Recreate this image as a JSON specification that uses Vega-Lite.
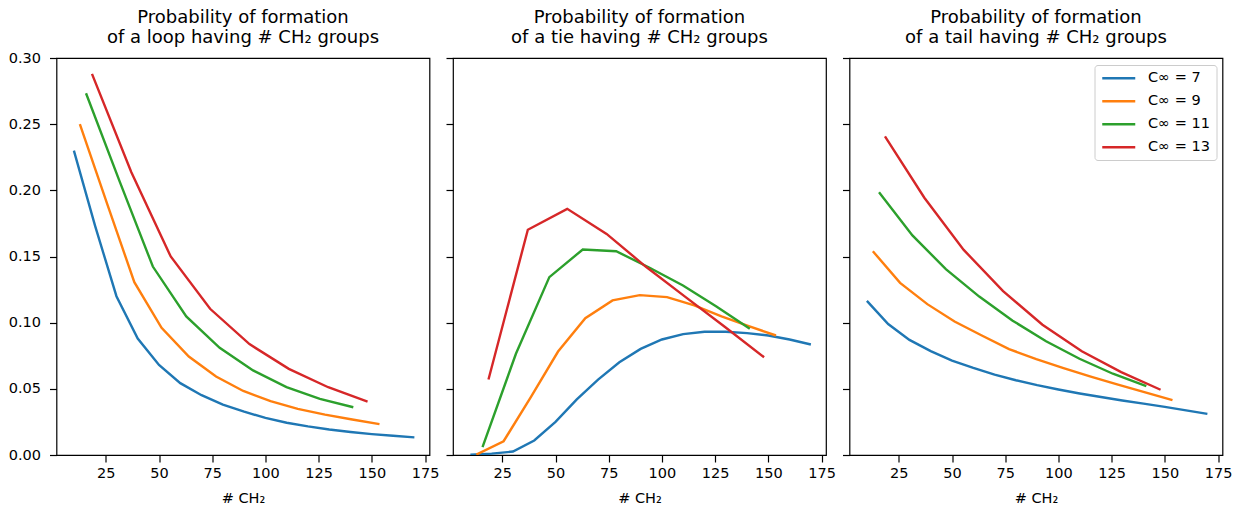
{
  "$schema": "https://vega.github.io/schema/vega-lite/v6.json",
  "padding": {"left": 7.5, "top": 7, "right": 0, "bottom": 0},
  "background": "white",
  "config": {
    "font": "DejaVu Sans",
    "view": {"stroke": "black", "strokeWidth": 1.2},
    "axis": {
      "domain": false, "grid": false, "tickColor": "black", "tickWidth": 1.2, "tickSize": 7,
      "labelColor": "black", "labelFontSize": 14.5, "labelFont": "DejaVu Sans",
      "titleFont": "DejaVu Sans", "titleFontSize": 14.5, "titleFontWeight": "normal", "titleColor": "black"
    },
    "axisX": {"labelPadding": 4, "titlePadding": 11.5},
    "axisY": {"labelPadding": 9},
    "title": {"font": "DejaVu Sans", "fontSize": 18, "fontWeight": "normal", "color": "black", "lineHeight": 20, "offset": 10, "anchor": "middle", "frame": "group"}
  },
  "datasets": {
    "d": [
      {"p": "loop", "c": "C∞ = 7", "x": 10, "y": 0.230},
      {"p": "loop", "c": "C∞ = 7", "x": 20, "y": 0.173},
      {"p": "loop", "c": "C∞ = 7", "x": 30, "y": 0.120},
      {"p": "loop", "c": "C∞ = 7", "x": 40, "y": 0.088},
      {"p": "loop", "c": "C∞ = 7", "x": 50, "y": 0.068},
      {"p": "loop", "c": "C∞ = 7", "x": 60, "y": 0.0543},
      {"p": "loop", "c": "C∞ = 7", "x": 70, "y": 0.0452},
      {"p": "loop", "c": "C∞ = 7", "x": 80, "y": 0.0380},
      {"p": "loop", "c": "C∞ = 7", "x": 90, "y": 0.0328},
      {"p": "loop", "c": "C∞ = 7", "x": 100, "y": 0.0280},
      {"p": "loop", "c": "C∞ = 7", "x": 110, "y": 0.0244},
      {"p": "loop", "c": "C∞ = 7", "x": 120, "y": 0.0216},
      {"p": "loop", "c": "C∞ = 7", "x": 130, "y": 0.0193},
      {"p": "loop", "c": "C∞ = 7", "x": 140, "y": 0.0174},
      {"p": "loop", "c": "C∞ = 7", "x": 150, "y": 0.0158},
      {"p": "loop", "c": "C∞ = 7", "x": 160, "y": 0.0145},
      {"p": "loop", "c": "C∞ = 7", "x": 170, "y": 0.0133},
      {"p": "loop", "c": "C∞ = 9", "x": 12.8, "y": 0.250},
      {"p": "loop", "c": "C∞ = 9", "x": 25.6, "y": 0.190},
      {"p": "loop", "c": "C∞ = 9", "x": 38.4, "y": 0.1306},
      {"p": "loop", "c": "C∞ = 9", "x": 51.2, "y": 0.0961},
      {"p": "loop", "c": "C∞ = 9", "x": 64, "y": 0.0744},
      {"p": "loop", "c": "C∞ = 9", "x": 76.8, "y": 0.0593},
      {"p": "loop", "c": "C∞ = 9", "x": 89.6, "y": 0.0484},
      {"p": "loop", "c": "C∞ = 9", "x": 102.4, "y": 0.0407},
      {"p": "loop", "c": "C∞ = 9", "x": 115.2, "y": 0.0349},
      {"p": "loop", "c": "C∞ = 9", "x": 128, "y": 0.0305},
      {"p": "loop", "c": "C∞ = 9", "x": 140.8, "y": 0.0268},
      {"p": "loop", "c": "C∞ = 9", "x": 153.6, "y": 0.0233},
      {"p": "loop", "c": "C∞ = 11", "x": 15.7, "y": 0.2734},
      {"p": "loop", "c": "C∞ = 11", "x": 31.4, "y": 0.2072},
      {"p": "loop", "c": "C∞ = 11", "x": 47.1, "y": 0.1424},
      {"p": "loop", "c": "C∞ = 11", "x": 62.8, "y": 0.1047},
      {"p": "loop", "c": "C∞ = 11", "x": 78.5, "y": 0.0810},
      {"p": "loop", "c": "C∞ = 11", "x": 94.2, "y": 0.0639},
      {"p": "loop", "c": "C∞ = 11", "x": 109.9, "y": 0.0513},
      {"p": "loop", "c": "C∞ = 11", "x": 125.6, "y": 0.0424},
      {"p": "loop", "c": "C∞ = 11", "x": 141.3, "y": 0.0361},
      {"p": "loop", "c": "C∞ = 13", "x": 18.5, "y": 0.288},
      {"p": "loop", "c": "C∞ = 13", "x": 37, "y": 0.2137},
      {"p": "loop", "c": "C∞ = 13", "x": 55.5, "y": 0.150},
      {"p": "loop", "c": "C∞ = 13", "x": 74, "y": 0.1105},
      {"p": "loop", "c": "C∞ = 13", "x": 92.5, "y": 0.0838},
      {"p": "loop", "c": "C∞ = 13", "x": 111, "y": 0.0651},
      {"p": "loop", "c": "C∞ = 13", "x": 129.5, "y": 0.0512},
      {"p": "loop", "c": "C∞ = 13", "x": 148, "y": 0.0404},

      {"p": "tie", "c": "C∞ = 7", "x": 10, "y": 0.0003},
      {"p": "tie", "c": "C∞ = 7", "x": 20, "y": 0.001},
      {"p": "tie", "c": "C∞ = 7", "x": 30, "y": 0.0026},
      {"p": "tie", "c": "C∞ = 7", "x": 40, "y": 0.011},
      {"p": "tie", "c": "C∞ = 7", "x": 50, "y": 0.025},
      {"p": "tie", "c": "C∞ = 7", "x": 60, "y": 0.042},
      {"p": "tie", "c": "C∞ = 7", "x": 70, "y": 0.057},
      {"p": "tie", "c": "C∞ = 7", "x": 80, "y": 0.0701},
      {"p": "tie", "c": "C∞ = 7", "x": 90, "y": 0.0802},
      {"p": "tie", "c": "C∞ = 7", "x": 100, "y": 0.0873},
      {"p": "tie", "c": "C∞ = 7", "x": 110, "y": 0.0913},
      {"p": "tie", "c": "C∞ = 7", "x": 120, "y": 0.0931},
      {"p": "tie", "c": "C∞ = 7", "x": 130, "y": 0.0931},
      {"p": "tie", "c": "C∞ = 7", "x": 140, "y": 0.0921},
      {"p": "tie", "c": "C∞ = 7", "x": 150, "y": 0.0903},
      {"p": "tie", "c": "C∞ = 7", "x": 160, "y": 0.0873},
      {"p": "tie", "c": "C∞ = 7", "x": 170, "y": 0.0835},
      {"p": "tie", "c": "C∞ = 9", "x": 12.8, "y": 0.0003},
      {"p": "tie", "c": "C∞ = 9", "x": 25.6, "y": 0.0104},
      {"p": "tie", "c": "C∞ = 9", "x": 38.4, "y": 0.0437},
      {"p": "tie", "c": "C∞ = 9", "x": 51.2, "y": 0.0782},
      {"p": "tie", "c": "C∞ = 9", "x": 64, "y": 0.1034},
      {"p": "tie", "c": "C∞ = 9", "x": 76.8, "y": 0.1168},
      {"p": "tie", "c": "C∞ = 9", "x": 89.6, "y": 0.1208},
      {"p": "tie", "c": "C∞ = 9", "x": 102.4, "y": 0.1193},
      {"p": "tie", "c": "C∞ = 9", "x": 115.2, "y": 0.113},
      {"p": "tie", "c": "C∞ = 9", "x": 128, "y": 0.1047},
      {"p": "tie", "c": "C∞ = 9", "x": 140.8, "y": 0.0974},
      {"p": "tie", "c": "C∞ = 9", "x": 153.6, "y": 0.0903},
      {"p": "tie", "c": "C∞ = 11", "x": 15.7, "y": 0.0059},
      {"p": "tie", "c": "C∞ = 11", "x": 31.4, "y": 0.0765},
      {"p": "tie", "c": "C∞ = 11", "x": 47.1, "y": 0.1344},
      {"p": "tie", "c": "C∞ = 11", "x": 62.8, "y": 0.1553},
      {"p": "tie", "c": "C∞ = 11", "x": 78.5, "y": 0.1540},
      {"p": "tie", "c": "C∞ = 11", "x": 94.2, "y": 0.1415},
      {"p": "tie", "c": "C∞ = 11", "x": 109.9, "y": 0.1281},
      {"p": "tie", "c": "C∞ = 11", "x": 125.6, "y": 0.1122},
      {"p": "tie", "c": "C∞ = 11", "x": 141.3, "y": 0.0954},
      {"p": "tie", "c": "C∞ = 13", "x": 18.5, "y": 0.0571},
      {"p": "tie", "c": "C∞ = 13", "x": 37, "y": 0.1702},
      {"p": "tie", "c": "C∞ = 13", "x": 55.5, "y": 0.1860},
      {"p": "tie", "c": "C∞ = 13", "x": 74, "y": 0.1671},
      {"p": "tie", "c": "C∞ = 13", "x": 92.5, "y": 0.1422},
      {"p": "tie", "c": "C∞ = 13", "x": 111, "y": 0.1195},
      {"p": "tie", "c": "C∞ = 13", "x": 129.5, "y": 0.0969},
      {"p": "tie", "c": "C∞ = 13", "x": 148, "y": 0.0739},

      {"p": "tail", "c": "C∞ = 7", "x": 10, "y": 0.1165},
      {"p": "tail", "c": "C∞ = 7", "x": 20, "y": 0.099},
      {"p": "tail", "c": "C∞ = 7", "x": 30, "y": 0.087},
      {"p": "tail", "c": "C∞ = 7", "x": 40, "y": 0.0785},
      {"p": "tail", "c": "C∞ = 7", "x": 50, "y": 0.0714},
      {"p": "tail", "c": "C∞ = 7", "x": 60, "y": 0.0659},
      {"p": "tail", "c": "C∞ = 7", "x": 70, "y": 0.0608},
      {"p": "tail", "c": "C∞ = 7", "x": 80, "y": 0.0565},
      {"p": "tail", "c": "C∞ = 7", "x": 90, "y": 0.0528},
      {"p": "tail", "c": "C∞ = 7", "x": 100, "y": 0.0495},
      {"p": "tail", "c": "C∞ = 7", "x": 110, "y": 0.0465},
      {"p": "tail", "c": "C∞ = 7", "x": 120, "y": 0.0438},
      {"p": "tail", "c": "C∞ = 7", "x": 130, "y": 0.0412},
      {"p": "tail", "c": "C∞ = 7", "x": 140, "y": 0.0388},
      {"p": "tail", "c": "C∞ = 7", "x": 150, "y": 0.0364},
      {"p": "tail", "c": "C∞ = 7", "x": 160, "y": 0.0337},
      {"p": "tail", "c": "C∞ = 7", "x": 170, "y": 0.0311},
      {"p": "tail", "c": "C∞ = 9", "x": 12.8, "y": 0.154},
      {"p": "tail", "c": "C∞ = 9", "x": 25.6, "y": 0.1301},
      {"p": "tail", "c": "C∞ = 9", "x": 38.4, "y": 0.114},
      {"p": "tail", "c": "C∞ = 9", "x": 51.2, "y": 0.1009},
      {"p": "tail", "c": "C∞ = 9", "x": 64, "y": 0.0903},
      {"p": "tail", "c": "C∞ = 9", "x": 76.8, "y": 0.0800},
      {"p": "tail", "c": "C∞ = 9", "x": 89.6, "y": 0.0725},
      {"p": "tail", "c": "C∞ = 9", "x": 102.4, "y": 0.0657},
      {"p": "tail", "c": "C∞ = 9", "x": 115.2, "y": 0.0593},
      {"p": "tail", "c": "C∞ = 9", "x": 128, "y": 0.0532},
      {"p": "tail", "c": "C∞ = 9", "x": 140.8, "y": 0.0473},
      {"p": "tail", "c": "C∞ = 9", "x": 153.6, "y": 0.0415},
      {"p": "tail", "c": "C∞ = 11", "x": 15.7, "y": 0.1986},
      {"p": "tail", "c": "C∞ = 11", "x": 31.4, "y": 0.1659},
      {"p": "tail", "c": "C∞ = 11", "x": 47.1, "y": 0.1405},
      {"p": "tail", "c": "C∞ = 11", "x": 62.8, "y": 0.1197},
      {"p": "tail", "c": "C∞ = 11", "x": 78.5, "y": 0.1015},
      {"p": "tail", "c": "C∞ = 11", "x": 94.2, "y": 0.086},
      {"p": "tail", "c": "C∞ = 11", "x": 109.9, "y": 0.0727},
      {"p": "tail", "c": "C∞ = 11", "x": 125.6, "y": 0.0614},
      {"p": "tail", "c": "C∞ = 11", "x": 141.3, "y": 0.052},
      {"p": "tail", "c": "C∞ = 13", "x": 18.5, "y": 0.2407},
      {"p": "tail", "c": "C∞ = 13", "x": 37, "y": 0.1944},
      {"p": "tail", "c": "C∞ = 13", "x": 55.5, "y": 0.155},
      {"p": "tail", "c": "C∞ = 13", "x": 74, "y": 0.1238},
      {"p": "tail", "c": "C∞ = 13", "x": 92.5, "y": 0.0984},
      {"p": "tail", "c": "C∞ = 13", "x": 111, "y": 0.0784},
      {"p": "tail", "c": "C∞ = 13", "x": 129.5, "y": 0.0626},
      {"p": "tail", "c": "C∞ = 13", "x": 148, "y": 0.0493}
    ]
  },
  "data": {"name": "d"},
  "bounds": "flush",
  "spacing": 23.5,
  "resolve": {"scale": {"color": "independent"}, "legend": {"color": "independent"}},
  "hconcat": [
    {
      "width": 373, "height": 397,
      "title": {"text": ["Probability of formation", "of a loop having # CH₂ groups"], "offset": 3.5},
      "transform": [{"filter": "datum.p === 'loop'"}],
      "mark": {"type": "line", "strokeWidth": 2.4, "clip": true},
      "encoding": {
        "x": {"field": "x", "type": "quantitative", "scale": {"domain": [1.83, 177.1], "nice": false, "zero": false},
              "axis": {"values": [25, 50, 75, 100, 125, 150, 175], "title": "# CH₂"}},
        "y": {"field": "y", "type": "quantitative", "scale": {"domain": [0, 0.3], "nice": false},
              "axis": {"values": [0, 0.05, 0.1, 0.15, 0.2, 0.25, 0.3], "format": ".2f", "title": null}},
        "color": {"field": "c", "type": "nominal",
                  "scale": {"domain": ["C∞ = 7", "C∞ = 9", "C∞ = 11", "C∞ = 13"], "range": ["#1f77b4", "#ff7f0e", "#2ca02c", "#d62728"]},
                  "legend": null}
      }
    },
    {
      "width": 373, "height": 397,
      "title": {"text": ["Probability of formation", "of a tie having # CH₂ groups"]},
      "transform": [{"filter": "datum.p === 'tie'"}],
      "mark": {"type": "line", "strokeWidth": 2.4, "clip": true},
      "encoding": {
        "x": {"field": "x", "type": "quantitative", "scale": {"domain": [1.83, 177.1], "nice": false, "zero": false},
              "axis": {"values": [25, 50, 75, 100, 125, 150, 175], "title": "# CH₂"}},
        "y": {"field": "y", "type": "quantitative", "scale": {"domain": [0, 0.3], "nice": false},
              "axis": {"values": [0, 0.05, 0.1, 0.15, 0.2, 0.25, 0.3], "labels": false, "title": null}},
        "color": {"field": "c", "type": "nominal",
                  "scale": {"domain": ["C∞ = 7", "C∞ = 9", "C∞ = 11", "C∞ = 13"], "range": ["#1f77b4", "#ff7f0e", "#2ca02c", "#d62728"]},
                  "legend": null}
      }
    },
    {
      "width": 373, "height": 397,
      "title": {"text": ["Probability of formation", "of a tail having # CH₂ groups"]},
      "transform": [{"filter": "datum.p === 'tail'"}],
      "mark": {"type": "line", "strokeWidth": 2.4, "clip": true},
      "encoding": {
        "x": {"field": "x", "type": "quantitative", "scale": {"domain": [1.83, 177.1], "nice": false, "zero": false},
              "axis": {"values": [25, 50, 75, 100, 125, 150, 175], "title": "# CH₂"}},
        "y": {"field": "y", "type": "quantitative", "scale": {"domain": [0, 0.3], "nice": false},
              "axis": {"values": [0, 0.05, 0.1, 0.15, 0.2, 0.25, 0.3], "labels": false, "title": null}},
        "color": {"field": "c", "type": "nominal",
                  "scale": {"domain": ["C∞ = 7", "C∞ = 9", "C∞ = 11", "C∞ = 13"], "range": ["#1f77b4", "#ff7f0e", "#2ca02c", "#d62728"]},
                  "legend": {"orient": "top-right", "offset": 6.5, "title": null, "symbolType": "M-3,0H3", "symbolSize": 121,
                             "symbolOffset": 11, "symbolStrokeWidth": 2.6, "symbolFillColor": "transparent",
                             "labelFontSize": 14.5, "labelFont": "DejaVu Sans", "labelColor": "black",
                             "labelOffset": 22, "strokeColor": "#cccccc", "fillColor": "white", "padding": 6,
                             "cornerRadius": 3, "rowPadding": 8}}
      }
    }
  ]
}
